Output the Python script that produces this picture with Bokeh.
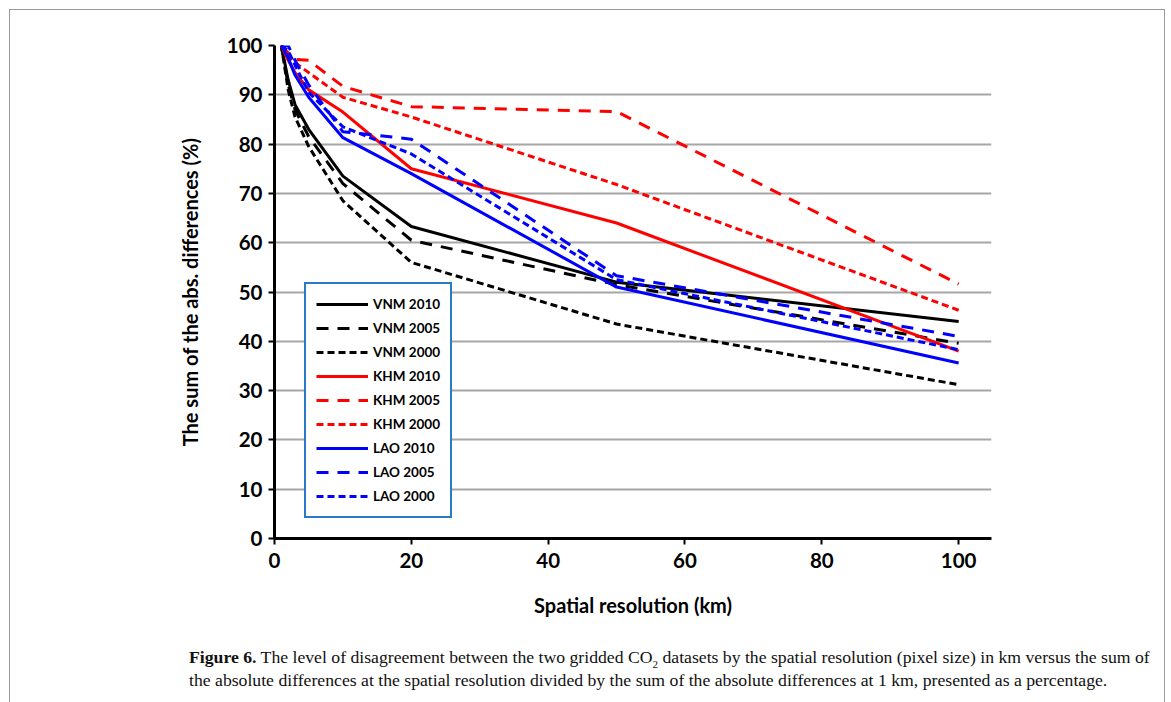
from bokeh.plotting import figure
from bokeh.models import Range1d, FixedTicker, Legend, LegendItem, Div
from bokeh.layouts import column
from bokeh.embed import file_html
from bokeh.resources import INLINE

# Spatial resolution (km)
resolution = [1, 2, 3, 5, 10, 20, 50, 100]

vnm_2010 = [100, 93, 88, 83, 73.5, 63.3, 52.0, 44.0]
vnm_2005 = [100, 92, 87, 81.5, 72.0, 60.5, 51.5, 39.6]
vnm_2000 = [100, 91, 85.5, 79.5, 68.5, 56.0, 43.5, 31.2]
khm_2010 = [100, 97, 94.5, 91, 86.5, 75.0, 64.0, 38.0]
khm_2005 = [100, 98.5, 97.2, 97, 91.7, 87.6, 86.6, 51.6]
khm_2000 = [100, 98, 96.5, 94.5, 89.5, 85.5, 71.8, 46.3]
lao_2010 = [100, 97.5, 94, 89.5, 81.3, 74.0, 51.0, 35.6]
lao_2005 = [100, 100, 97, 92, 82.5, 81.0, 53.3, 41.0]
lao_2000 = [100, 99, 96, 90.5, 83.5, 78.0, 52.5, 38.3]

series_names = ["VNM 2010", "VNM 2005", "VNM 2000",
                "KHM 2010", "KHM 2005", "KHM 2000",
                "LAO 2010", "LAO 2005", "LAO 2000"]
series_values = [vnm_2010, vnm_2005, vnm_2000,
                 khm_2010, khm_2005, khm_2000,
                 lao_2010, lao_2005, lao_2000]

x_ticks = [0, 20, 40, 60, 80, 100]
y_ticks = [0, 10, 20, 30, 40, 50, 60, 70, 80, 90, 100]

colors = {"VNM": "#000000", "KHM": "#ff0000", "LAO": "#0000ff"}
dashes = {"2010": "solid", "2005": "12 9", "2000": "7 4"}

FONT = "Lato"

p = figure(frame_width=717, frame_height=493,
           x_range=Range1d(0, 104.8), y_range=Range1d(0, 100),
           output_backend="svg", toolbar_location=None,
           min_border_left=264, min_border_top=35,
           min_border_right=172, min_border_bottom=88,
           background_fill_color="white", border_fill_color="white")
p.outline_line_color = None

p.xgrid.visible = False
p.ygrid.grid_line_color = "#a6a6a6"
p.ygrid.grid_line_width = 2

for ax, ticks in ((p.xaxis, x_ticks), (p.yaxis, y_ticks)):
    ax.ticker = FixedTicker(ticks=ticks)
    ax.minor_tick_line_color = None
    ax.axis_line_width = 3
    ax.axis_line_color = "black"
    ax.major_tick_line_width = 2
    ax.major_tick_line_color = "black"
    ax.major_tick_out = 6
    ax.major_tick_in = 0
    ax.major_label_text_font = FONT
    ax.major_label_text_font_style = "bold"
    ax.major_label_text_font_size = "20.5px"
    ax.major_label_text_color = "black"
    ax.axis_label_text_font = FONT
    ax.axis_label_text_font_style = "bold"
    ax.axis_label_text_font_size = "20px"
    ax.axis_label_text_color = "black"

p.xaxis.axis_label = "Spatial resolution (km)"
p.yaxis.axis_label = "The sum of the abs. differences (%)"
p.xaxis.major_label_standoff = 8
p.yaxis.major_label_standoff = 6
p.xaxis.axis_label_standoff = 22
p.yaxis.axis_label_standoff = 22

items = []
for name, vals in zip(series_names, series_values):
    country, year = name.split()
    r = p.line(resolution, vals, line_color=colors[country],
               line_dash=dashes[year], line_width=3)
    items.append(LegendItem(label=name, renderers=[r]))

legend = Legend(items=items, location=(30, 20),
                border_line_color="#2a78c8", border_line_width=2,
                border_line_alpha=1.0,
                background_fill_color="white", background_fill_alpha=1,
                label_text_font=FONT, label_text_font_style="bold",
                label_text_font_size="13.5px", label_text_color="black",
                glyph_width=52, glyph_height=20, label_height=20,
                label_standoff=5, spacing=4, padding=10, margin=0)
p.add_layout(legend)

caption = Div(
    text=('<div style="font-family: \'Liberation Serif\', serif; font-size: 17.7px; '
          'line-height: 23px; color: #111; white-space: nowrap;">'
          '<div><span style="font-weight: bold;">Figure 6.</span>'
          '<span> The level of disagreement between the two gridded CO</span>'
          '<sub style="font-size: 11px; line-height: 0;">2</sub>'
          '<span> datasets by the spatial resolution (pixel size) in km versus the sum of</span></div>'
          '<div><span>the absolute differences at the spatial resolution divided by the sum of the '
          'absolute differences at 1 km, presented as a percentage.</span></div></div>'),
    width=975, height=56, margin=(20, 0, 0, 179))

layout = column(p, caption, margin=(9, 0, 0, 9),
                styles={"border": "1px solid #9a9a9a"})
open("out.html", "w").write(file_html(layout, INLINE))
